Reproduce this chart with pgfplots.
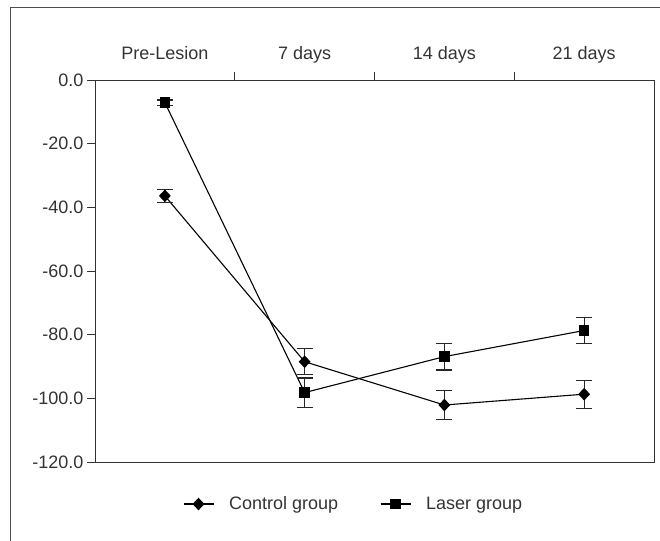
\documentclass[border=0pt]{standalone}
\usepackage{fontspec}
\setmainfont{Liberation Sans}
\usepackage{pgfplots}
\pgfplotsset{compat=1.18}
\begin{document}
\begin{tikzpicture}[x=1bp,y=1bp]
\useasboundingbox (0,0) rectangle (660,541);
\draw[black!70, line width=0.9bp] (10,-5) -- (10,534) -- (665,534);
\begin{axis}[
  at={(95bp,79bp)}, anchor=south west,
  scale only axis, width=559bp, height=382bp,
  xmin=-0.5, xmax=3.5, ymin=-120, ymax=0,
  axis line style={black!80, line width=0.9bp},
  every tick/.style={black!80, line width=0.9bp},
  tick align=outside, major tick length=8bp,
  xtick={0.5,1.5,2.5}, xticklabels={},
  xtick pos=right, xticklabel pos=right,
  extra x ticks={0,1,2,3},
  extra x tick labels={Pre-Lesion,7 days,14 days,21 days},
  extra x tick style={major tick length=0pt, xticklabel style={anchor=base, yshift=20bp}},
  ytick={-120,-100,-80,-60,-40,-20,0},
  yticklabels={-120.0,-100.0,-80.0,-60.0,-40.0,-20.0,0.0},
  ytick pos=left,
  ticklabel style={font=\fontsize{18bp}{20bp}\selectfont, color=black!80},
  legend columns=2,
  legend style={at={(axis description cs:0.157,-0.11)}, anchor=west, draw=none, fill=none,
    inner sep=0pt, font=\fontsize{18bp}{20bp}\selectfont, text=black!80,
    /tikz/every even column/.append style={column sep=40bp}},
  legend image code/.code={\path (0bp,0bp) (43bp,0bp);\draw[mark repeat=2,mark phase=2,#1] plot coordinates {(0bp,0bp) (15bp,0bp) (30bp,0bp)};},
]
\addplot[black, line width=1.1bp, mark=diamond*, mark size=5.5bp, mark options={xscale=1.25},
  error bars/.cd, y dir=both, y explicit,
  error bar style={line width=1.2bp, black!85},
  error mark options={rotate=90, line width=1.2bp, black!85, mark size=8bp}]
  coordinates {(0,-36.4) +- (0,2.0) (1,-88.5) +- (0,4.1) (2,-102.1) +- (0,4.5) (3,-98.7) +- (0,4.4)};
\addlegendentry{Control group}
\addplot[black, line width=1.1bp, mark=square*, mark size=4.8bp,
  error bars/.cd, y dir=both, y explicit,
  error bar style={line width=1.2bp, black!85},
  error mark options={rotate=90, line width=1.2bp, black!85, mark size=8bp}]
  coordinates {(0,-7.1) +- (0,0.8) (1,-98.2) +- (0,4.6) (2,-86.9) +- (0,4.2) (3,-78.7) +- (0,4.1)};
\addlegendentry{Laser group}
\end{axis}
\end{tikzpicture}
\end{document}
